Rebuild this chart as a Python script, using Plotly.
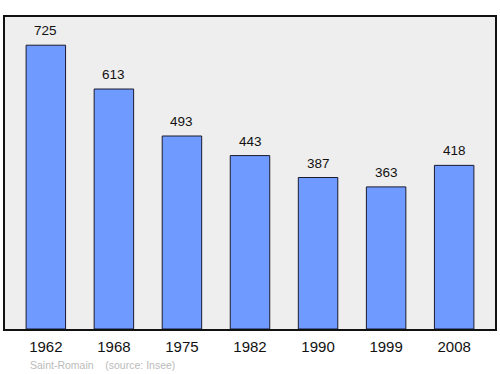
import plotly.graph_objects as go

years = ["1962", "1968", "1975", "1982", "1990", "1999", "2008"]
population = [725, 613, 493, 443, 387, 363, 418]

FONT = "Liberation Sans, Arial, sans-serif"

fig = go.Figure()
fig.add_trace(go.Bar(
    x=years, y=population,
    width=0.58,
    marker=dict(color="#6f9aff", line=dict(color="#1a1a2e", width=1)),
    hoverinfo="skip",
))
for i, v in enumerate(population):
    fig.add_annotation(x=i, y=v, text=str(v), showarrow=False,
                       yanchor="bottom", yshift=5,
                       font=dict(family=FONT, size=13.5, color="#111"))

fig.add_annotation(xref="paper", yref="paper", x=23/492, y=0, yshift=-36,
                   xanchor="left", yanchor="middle", showarrow=False,
                   text="Saint-Romain&nbsp;&nbsp;&nbsp;&nbsp;(source: Insee)",
                   font=dict(family=FONT, size=10.5, color="#bbbbbb"))

fig.update_layout(
    width=500, height=374,
    margin=dict(l=5, r=3, t=17, b=45),
    paper_bgcolor="white", plot_bgcolor="#eeeeee",
    showlegend=False,
    xaxis=dict(type="category", range=[-0.6, 6.6], showgrid=False, zeroline=False,
               showline=True, mirror=True, linecolor="#111", linewidth=1.5, ticks="",
               ticklabelstandoff=3,
               tickfont=dict(family=FONT, size=15, color="#111")),
    yaxis=dict(range=[0, 797], showgrid=False, zeroline=False, showline=True, mirror=True,
               linecolor="#111", linewidth=1.5, showticklabels=False, ticks=""),
)
fig.write_html("out.html")
